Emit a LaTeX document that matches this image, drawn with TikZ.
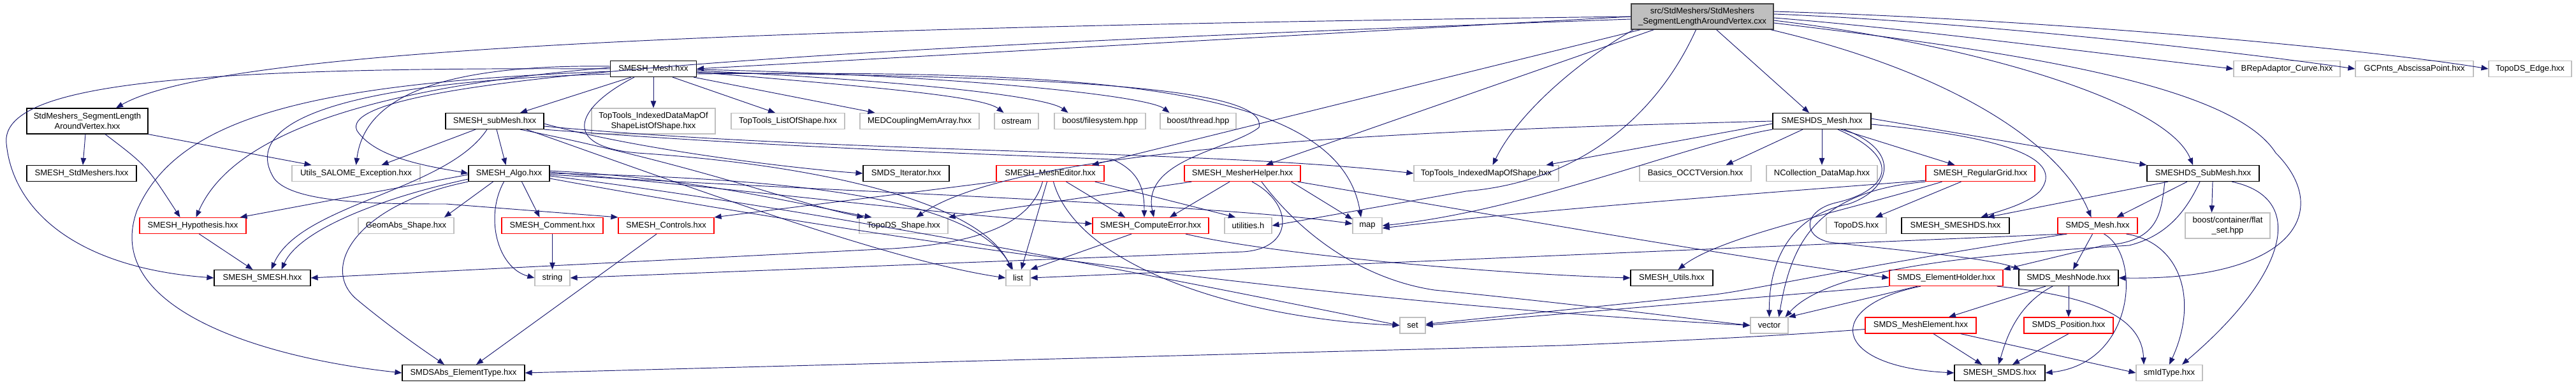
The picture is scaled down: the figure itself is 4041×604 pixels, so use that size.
\documentclass[tikz,border=0pt]{standalone}
\usepackage{fontspec}
\setmainfont{Liberation Sans}
\usetikzlibrary{arrows.meta}
\definecolor{edgeblue}{HTML}{191970}
\definecolor{boxgray}{HTML}{BFBFBF}
\definecolor{boxred}{HTML}{FF0000}
\definecolor{topline}{HTML}{404040}

\begin{document}
\begin{tikzpicture}[x=1pt,y=-1pt,>={Triangle[length=11pt,width=8.5pt]},
  hfile/.style={draw=black,line width=1.2pt,inner sep=0pt,minimum height=25pt,align=center,font=\fontsize{13}{15.4}\selectfont},
  rfile/.style={hfile,draw=boxred},
  gfile/.style={hfile,draw=boxgray},
  dep/.style={->,draw=edgeblue,line width=0.95pt}]
\useasboundingbox (0,0) rectangle (4041,604);

\path
(2670.5,26) node[hfile,fill=boxgray,draw=topline,minimum width=223pt,minimum height=40pt] (cxx) {src/StdMeshers/StdMeshers\\\_SegmentLengthAroundVertex.cxx}

(1025,108)   node[hfile,minimum width=135pt] (mesh) {SMESH\_Mesh.hxx}
(3587.5,108) node[gfile,minimum width=167pt] (brep) {BRepAdaptor\_Curve.hxx}
(3787.5,108) node[gfile,minimum width=185pt] (gcp) {GCPnts\_AbscissaPoint.hxx}
(3969,108)   node[gfile,minimum width=130pt] (edge) {TopoDS\_Edge.hxx}

(137,190)    node[hfile,minimum width=190pt,minimum height=40pt] (stdhxx) {StdMeshers\_SegmentLength\\AroundVertex.hxx}
(776,190)    node[hfile,minimum width=154pt] (submesh) {SMESH\_subMesh.hxx}
(1025,190)   node[gfile,minimum width=194pt,minimum height=40pt] (ttidm) {TopTools\_IndexedDataMapOf\\ShapeListOfShape.hxx}
(1236,190)   node[gfile,minimum width=178pt] (ttlist) {TopTools\_ListOfShape.hxx}
(1442.5,190) node[gfile,minimum width=187pt] (medc) {MEDCouplingMemArray.hxx}
(1594.5,190) node[gfile,minimum width=69pt] (ostream) {ostream}
(1725.5,190) node[gfile,minimum width=143pt] (bfs) {boost/filesystem.hpp}
(1879.5,190) node[gfile,minimum width=119pt] (bthread) {boost/thread.hpp}
(2858,190)   node[hfile,minimum width=154pt] (meshds) {SMESHDS\_Mesh.hxx}

(128,272)    node[hfile,minimum width=172pt] (stdm) {SMESH\_StdMeshers.hxx}
(558.5,272)  node[gfile,minimum width=201pt] (exc) {Utils\_SALOME\_Exception.hxx}
(798.5,272)  node[hfile,minimum width=127pt] (algo) {SMESH\_Algo.hxx}
(1421.5,272) node[hfile,minimum width=135pt] (iter) {SMDS\_Iterator.hxx}
(1647.5,272) node[rfile,minimum width=169pt] (editor) {SMESH\_MeshEditor.hxx}
(1949,272)   node[rfile,minimum width=182pt] (helper) {SMESH\_MesherHelper.hxx}
(2331.5,272) node[gfile,minimum width=227pt] (ttimap) {TopTools\_IndexedMapOfShape.hxx}
(2659.5,272) node[gfile,minimum width=175pt] (occt) {Basics\_OCCTVersion.hxx}
(2858,272)   node[gfile,minimum width=174pt] (ncoll) {NCollection\_DataMap.hxx}
(3106.5,272) node[rfile,minimum width=171pt] (grid) {SMESH\_RegularGrid.hxx}
(3456,272)   node[hfile,minimum width=176pt] (subds) {SMESHDS\_SubMesh.hxx}

(302.5,354)  node[rfile,minimum width=167pt] (hyp) {SMESH\_Hypothesis.hxx}
(637,354)    node[gfile,minimum width=150pt] (geomabs) {GeomAbs\_Shape.hxx}
(866.5,354)  node[rfile,minimum width=159pt] (comment) {SMESH\_Comment.hxx}
(1045,354)   node[rfile,minimum width=150pt] (controls) {SMESH\_Controls.hxx}
(1417.5,354) node[gfile,minimum width=139pt] (shape) {TopoDS\_Shape.hxx}
(1805,354)   node[rfile,minimum width=182pt] (comperr) {SMESH\_ComputeError.hxx}
(1958,354)   node[gfile,minimum width=74pt] (utilh) {utilities.h}
(2145,354)   node[gfile,minimum width=46pt] (map) {map}
(2912,354)   node[gfile,minimum width=94pt] (topods) {TopoDS.hxx}
(3067.5,354) node[hfile,minimum width=169pt] (smeshds) {SMESH\_SMESHDS.hxx}
(3290.5,354) node[rfile,minimum width=125pt] (smdsmesh) {SMDS\_Mesh.hxx}
(3494.5,354) node[gfile,minimum width=133pt,minimum height=40pt] (flatset) {boost/container/flat\\\_set.hpp}

(411.5,436)  node[hfile,minimum width=151pt] (smesh) {SMESH\_SMESH.hxx}
(866.5,436)  node[gfile,minimum width=55pt] (string) {string}
(1597,436)   node[gfile,minimum width=38pt] (list) {list}
(2622.5,436) node[hfile,minimum width=129pt] (smutils) {SMESH\_Utils.hxx}
(3053,436)   node[rfile,minimum width=178pt] (holder) {SMDS\_ElementHolder.hxx}
(3245,436)   node[hfile,minimum width=156pt] (meshnode) {SMDS\_MeshNode.hxx}

(2216,510.5)   node[gfile,minimum width=40pt] (set) {set}
(2775.5,510.5) node[gfile,minimum width=59pt] (vector) {vector}
(3013,510.5)   node[rfile,minimum width=174pt] (meshelem) {SMDS\_MeshElement.hxx}
(3245,510.5)   node[rfile,minimum width=140pt] (position) {SMDS\_Position.hxx}

(727,585)    node[hfile,minimum width=192pt] (smdsabs) {SMDSAbs\_ElementType.hxx}
(3137,585)   node[hfile,minimum width=142pt] (smds) {SMESH\_SMDS.hxx}
(3403,585)   node[gfile,minimum width=104pt] (smidtype) {smIdType.hxx};

% source file
\draw[dep] (cxx.west) .. controls (1000,45) and (330,85) .. ([xshift=45pt]stdhxx.north);
\draw[dep] (cxx.west) -- (mesh.east);
\draw[dep] ([yshift=-4pt]cxx.west) .. controls (1300,75) and (520,120) .. (560,205) .. controls (590,250) and (680,262) .. (algo.west);
\draw[dep] ([xshift=15pt]cxx.south west) -- ([xshift=-20pt]editor.north east);
\draw[dep] ([xshift=36pt]cxx.south west) -- ([xshift=37pt]helper.north);
\draw[dep] ([xshift=4pt]cxx.south west) .. controls (2470,100) and (2380,180) .. ([xshift=10pt]ttimap.north);
\draw[dep] ([xshift=-10pt]cxx.south) .. controls (2600,180) and (2480,285) .. (2300,300) -- (utilh.east);
\draw[dep] ([xshift=22pt]cxx.south) -- ([xshift=-20pt]meshds.north);
\draw[dep] ([yshift=-2pt]cxx.east) .. controls (3000,45) and (3300,85) .. (brep.west);
\draw[dep] ([yshift=4pt]cxx.east) .. controls (3100,35) and (3500,80) .. (gcp.west);
\draw[dep] ([yshift=8pt]cxx.east) .. controls (3200,30) and (3700,75) .. (edge.west);
\draw[dep] ([yshift=-6pt]cxx.east) .. controls (3100,70) and (3400,160) .. ([xshift=-16pt]subds.north);
\draw[dep] ([xshift=-5pt]cxx.south east) .. controls (3050,110) and (3230,220) .. ([xshift=-10pt]smdsmesh.north);
\draw[dep] ([yshift=-10pt]cxx.east) .. controls (3150,80) and (3500,130) .. (3570,240) .. controls (3660,330) and (3600,440) .. (meshnode.east);

\draw[dep] ([xshift=-3pt]stdhxx.south) -- ([xshift=2pt]stdm.north);
\draw[dep] (stdhxx.south east) -- ([xshift=-70pt]exc.north);
\draw[dep] ([xshift=28pt]stdhxx.south) .. controls (230,260) .. ([xshift=-20pt]hyp.north);

\draw[dep] ([xshift=-35pt]mesh.south) -- ([xshift=40pt]submesh.north);
\draw[dep] (mesh.south) -- (ttidm.north);
\draw[dep] ([xshift=30pt]mesh.south) -- ([xshift=-20pt]ttlist.north);
\draw[dep] ([xshift=-5pt]mesh.south east) -- ([xshift=-70pt]medc.north);
\draw[dep] ([yshift=-5pt]mesh.east) .. controls (1350,135) and (1540,150) .. ([xshift=-20pt]ostream.north);
\draw[dep] ([yshift=-3pt]mesh.east) .. controls (1400,125) and (1640,150) .. ([xshift=-50pt]bfs.north);
\draw[dep] ([yshift=-1pt]mesh.east) .. controls (1500,118) and (1800,150) .. ([xshift=-45pt]bthread.north);
\draw[dep] ([yshift=4pt]mesh.west) .. controls (650,100) and (570,170) .. (exc.north);
\draw[dep] ([yshift=2pt]mesh.west) .. controls (550,140) and (360,220) .. ([xshift=5pt]hyp.north);
\draw[dep] (mesh.west) .. controls (300,105) and (0,130) .. (10,225) .. controls (20,330) and (120,420) .. (smesh.west);
\draw[dep] ([yshift=-4pt]mesh.west) .. controls (500,130) and (280,180) .. (215,330) .. controls (160,480) and (400,560) .. (smdsabs.west);
\draw[dep] ([yshift=-8pt]mesh.west) .. controls (500,130) and (380,200) .. (430,280) .. controls (460,320) and (600,320) .. (700,320) -- (controls.north west);
\draw[dep] ([yshift=-6pt]mesh.east) .. controls (1700,120) and (1990,140) .. (1975,200) .. controls (1930,235) and (1790,250) .. ([xshift=5pt]comperr.north);
\draw[dep] ([yshift=-8pt]mesh.east) .. controls (1700,110) and (2100,130) .. ([xshift=-10pt]map.north);
\draw[dep] ([xshift=-30pt]mesh.south) .. controls (900,170) and (880,230) .. (1000,240) .. controls (1300,260) and (1540,320) .. ([xshift=-10pt]list.north);

\draw[dep] ([xshift=3pt]submesh.south) -- ([xshift=-5pt]algo.north);
\draw[dep] ([xshift=-30pt]submesh.south) -- ([xshift=40pt]exc.north);
\draw[dep] ([xshift=-12pt]submesh.south) .. controls (700,300) and (470,320) .. ([xshift=14pt]smesh.north);
\draw[dep] ([yshift=-4pt]submesh.east) .. controls (1000,235) and (1250,265) .. (iter.west);
\draw[dep] ([yshift=-8pt]submesh.east) .. controls (1300,240) and (1900,235) .. (ttimap.west);
\draw[dep] (submesh.south east) .. controls (1200,230) and (1500,240) .. (1745,250) .. controls (1790,270) and (1795,300) .. ([xshift=-10pt]comperr.north);
\draw[dep] ([xshift=40pt]submesh.south) .. controls (1100,260) and (1250,320) .. ([xshift=8pt]shape.north west);
\draw[dep] ([xshift=50pt]submesh.south) .. controls (1100,300) and (1400,410) .. (list.west);

\draw[dep] ([yshift=-2pt]algo.west) -- ([xshift=-10pt]hyp.north east);
\draw[dep] ([yshift=-9pt]algo.west) .. controls (600,310) and (470,360) .. ([xshift=30pt]smesh.north);
\draw[dep] ([xshift=-25pt]algo.south) -- ([xshift=60pt]geomabs.north);
\draw[dep] ([xshift=20pt]algo.south) -- ([xshift=-20pt]comment.north);
\draw[dep] ([xshift=-8pt]algo.south) .. controls (760,340) and (780,420) .. (string.west);
\draw[dep] (algo.south west) .. controls (560,320) and (500,420) .. (560,470) .. controls (620,520) and (680,560) .. ([xshift=-30pt]smdsabs.north);
\draw[dep] ([yshift=4pt]algo.east) .. controls (1100,280) and (1250,320) .. ([xshift=20pt]shape.north west);
\draw[dep] ([yshift=2pt]algo.east) .. controls (1200,300) and (1500,340) .. ([yshift=3pt]comperr.west);
\draw[dep] (algo.east) .. controls (1300,280) and (1530,320) .. ([xshift=-8pt]list.north);
\draw[dep] ([yshift=-2pt]algo.east) .. controls (1300,300) and (1900,320) .. ([yshift=3pt]map.west);
\draw[dep] ([yshift=-4pt]algo.east) .. controls (1300,330) and (1900,450) .. (set.west);
\draw[dep] ([yshift=-8pt]algo.east) .. controls (1300,360) and (2000,470) .. (vector.west);

\draw[dep] (comment.south) -- (string.north);
\draw[dep] ([xshift=-15pt]controls.south) -- ([xshift=20pt]smdsabs.north);
\draw[dep] ([xshift=10pt]hyp.south) -- ([xshift=-15pt]smesh.north);

\draw[dep] (editor.south west) -- (controls.north east);
\draw[dep] ([xshift=-12pt]editor.south) .. controls (1620,340) and (1560,380) .. (1400,390) -- (smesh.east);
\draw[dep] ([xshift=-5pt]editor.south) -- ([xshift=5pt]list.north);
\draw[dep] ([xshift=25pt]editor.south) -- ([xshift=-40pt]comperr.north);
\draw[dep] ([xshift=-15pt]editor.south east) -- ([xshift=-20pt]utilh.north);
\draw[dep] ([xshift=5pt]editor.south) .. controls (1690,420) and (1950,500) .. (set.west);

\draw[dep] ([xshift=12pt]helper.south west) -- (shape.north east);
\draw[dep] ([xshift=-20pt]helper.south) -- ([xshift=30pt]comperr.north);
\draw[dep] ([xshift=15pt]helper.south) .. controls (2030,320) and (2030,390) .. (1950,395) -- (string.east);
\draw[dep] ([xshift=-15pt]helper.south east) -- ([yshift=-3pt]map.north west);
\draw[dep] ([xshift=30pt]helper.south) .. controls (2050,380) and (2150,440) .. (2250,455) .. controls (2500,480) and (2650,500) .. (vector.west);
\draw[dep] ([xshift=-5pt]helper.south east) .. controls (2300,330) and (2700,400) .. (holder.west);

\draw[dep] ([xshift=-30pt]comperr.south) -- (list.north east);
\draw[dep] ([xshift=55pt]comperr.south) .. controls (2000,400) and (2350,430) .. (smutils.west);

\draw[dep] (meshds.west) .. controls (2200,205) and (1600,230) .. ([xshift=20pt]shape.north);
\draw[dep] ([yshift=-4pt]meshds.west) -- ([xshift=-20pt]ttimap.north east);
\draw[dep] ([xshift=-30pt]meshds.south) -- ([xshift=-40pt]occt.north east);
\draw[dep] (meshds.south) -- (ncoll.north);
\draw[dep] ([xshift=30pt]meshds.south) -- ([xshift=-40pt]grid.north);
\draw[dep] ([yshift=-5pt]meshds.east) .. controls (3150,215) and (3240,250) .. (3200,300) .. controls (3180,320) and (3140,330) .. ([xshift=40pt]smeshds.north);
\draw[dep] ([yshift=4pt]meshds.east) -- (subds.north west);
\draw[dep] (meshds.south west) .. controls (2650,225) and (2400,330) .. (map.east);
\draw[dep] ([xshift=35pt]meshds.south) .. controls (2990,240) and (2960,300) .. (2900,320) .. controls (2800,340) and (2775,420) .. (vector.north);
\draw[dep] ([xshift=25pt]meshds.south) .. controls (2990,250) and (2960,300) .. (2880,318) .. controls (2830,330) and (2825,370) .. (2870,380) .. controls (3000,395) and (3120,405) .. ([xshift=3pt]meshnode.north west);

\draw[dep] ([xshift=-30pt]grid.south) -- ([xshift=30pt]topods.north);
\draw[dep] ([xshift=-60pt]grid.south) .. controls (2900,330) and (2700,370) .. ([xshift=10pt]smutils.north);
\draw[dep] (grid.south west) .. controls (2850,300) and (2810,380) .. ([xshift=15pt]vector.north);
\draw[dep] ([yshift=2pt]grid.south west) .. controls (2800,300) and (2400,330) .. ([yshift=-4pt]map.east);

\draw[dep] ([xshift=-55pt]subds.south) -- ([xshift=50pt]smeshds.north);
\draw[dep] ([xshift=-25pt]subds.south) -- ([xshift=30pt]smdsmesh.north);
\draw[dep] ([xshift=15pt]subds.south) -- ([xshift=-25pt]flatset.north);
\draw[dep] ([xshift=45pt]subds.south) .. controls (3620,310) and (3590,430) .. ([xshift=20pt]smidtype.north);
\draw[dep] ([xshift=-5pt]subds.south) .. controls (3430,330) and (3400,370) .. (3340,385) .. controls (3100,400) and (2870,420) .. ([xshift=25pt]vector.north);
\draw[dep] ([xshift=-60pt]subds.south) .. controls (3390,330) and (3390,380) .. (3300,385) -- (holder.north east);

\draw[dep] ([xshift=-8pt]smdsmesh.south) -- ([xshift=7pt]meshnode.north);
\draw[dep] ([xshift=10pt]smdsmesh.south) .. controls (3360,400) and (3350,570) .. (smds.east);
\draw[dep] ([xshift=45pt]smdsmesh.south) .. controls (3420,380) and (3450,470) .. (smidtype.north);
\draw[dep] ([xshift=10pt]smdsmesh.south west) -- (list.east);
\draw[dep] ([xshift=15pt]smdsmesh.south west) .. controls (2900,420) and (2750,455) .. (2690,462) -- ([yshift=2pt]set.east);

\draw[dep] (holder.south west) -- (set.east);
\draw[dep] ([xshift=-45pt]holder.south) -- (vector.north east);
\draw[dep] ([xshift=-40pt]holder.south) .. controls (2860,480) and (2870,575) .. (smds.west);
\draw[dep] ([xshift=-10pt]holder.south east) .. controls (3290,465) and (3360,500) .. ([xshift=-40pt]smidtype.north);

\draw[dep] ([xshift=-36pt]meshnode.south) -- ([xshift=44pt]meshelem.north);
\draw[dep] (meshnode.south) -- (position.north);
\draw[dep] ([xshift=-25pt]meshnode.south) .. controls (3160,480) and (3145,540) .. ([xshift=-2pt]smds.north);

\draw[dep] ([xshift=20pt]meshelem.south) -- ([xshift=-28pt]smds.north);
\draw[dep] ([xshift=-25pt]meshelem.south east) -- (smidtype.west);
\draw[dep] ([yshift=-6pt]meshelem.west) .. controls (2830,524) and (2700,532) .. (2450,542) -- (smdsabs.east);
\draw[dep] (position.south) -- ([xshift=20pt]smds.north);
\end{tikzpicture}
\end{document}
